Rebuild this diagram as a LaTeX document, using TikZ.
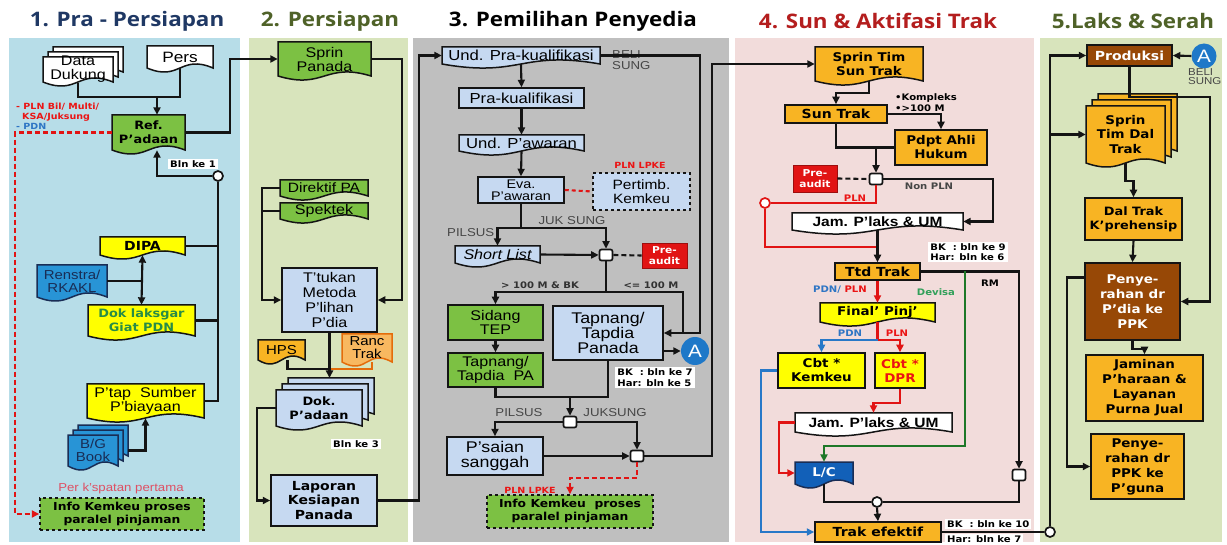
\documentclass[tikz,border=0pt]{standalone}
\usepackage{fontspec}
\usetikzlibrary{arrows.meta,calc}
\newfontfamily\fA{Liberation Sans}[FakeStretch=1.15]
\newfontfamily\fB{DejaVu Sans}[FakeStretch=1.12]
\newfontfamily\fT{Open Sans}[FakeStretch=1.12]
\newcommand\fsz[2]{\fontsize{#1}{#2}\selectfont}
\definecolor{pBlue}{RGB}{183,221,232}
\definecolor{pGreen}{RGB}{216,228,188}
\definecolor{pGray}{RGB}{191,191,191}
\definecolor{pPink}{RGB}{242,220,219}
\definecolor{cGreen}{RGB}{124,193,67}
\definecolor{cLBlue}{RGB}{198,217,241}
\definecolor{cYellow}{RGB}{255,255,0}
\definecolor{cGold}{RGB}{248,180,35}
\definecolor{cOrangeL}{RGB}{248,184,96}
\definecolor{cOrangeD}{RGB}{228,108,10}
\definecolor{cBrown}{RGB}{151,72,6}
\definecolor{cBlueDoc}{RGB}{40,148,214}
\definecolor{cBlueLC}{RGB}{18,96,184}
\definecolor{cRed}{RGB}{225,20,20}
\definecolor{cRedTxt}{RGB}{235,20,20}
\definecolor{cPink}{RGB}{222,80,100}
\definecolor{cBlueTxt}{RGB}{46,117,196}
\definecolor{cBlueLn}{RGB}{40,120,200}
\definecolor{cGreenTxt}{RGB}{50,160,90}
\definecolor{cGreenLn}{RGB}{30,120,40}
\definecolor{cGrayTxt}{RGB}{70,70,70}
\definecolor{cDark}{RGB}{50,50,50}
\definecolor{tNavy}{RGB}{31,56,100}
\definecolor{tOlive}{RGB}{79,98,40}
\definecolor{tRed}{RGB}{180,30,30}
\definecolor{cNavyTxt}{RGB}{25,45,85}
\definecolor{cDokTxt}{RGB}{40,140,70}
\definecolor{cLine}{RGB}{20,20,20}
\definecolor{cBlueA}{RGB}{30,120,200}
\tikzset{
  ln/.style={line width=2.1pt, draw=cLine},
  arr/.style={ln, -{Triangle[length=7.5pt,width=7pt]}},
  darr/.style={ln, {Triangle[length=7.5pt,width=7pt]}-{Triangle[length=7.5pt,width=7pt]}},
  rln/.style={ln, draw=cRed},
  rarr/.style={arr, draw=cRed},
  barr/.style={arr, draw=cBlueLn},
  garr/.style={arr, draw=cGreenLn},
  rdash/.style={arr, draw=cRed, dash pattern=on 5pt off 3pt},
  rdashln/.style={ln, draw=cRed, dash pattern=on 4pt off 3pt},
  kdash/.style={ln, dash pattern=on 5pt off 3pt},
  shp/.style={draw=cLine, line width=1.5pt},
  box/.style={draw=cLine, line width=1.5pt, inner sep=0pt, align=center},
  txt/.style={inner sep=0pt, align=center},
  title/.style={inner sep=0pt, font=\fT\bfseries\fsz{20}{21}},
  lbl/.style={fill=white, inner xsep=2pt, inner ysep=1.5pt, align=left, font=\fB\bfseries\fsz{9}{10.5}, text=black},
  lblg/.style={inner sep=0pt, align=left, font=\fB\bfseries\fsz{9}{11}, text=cDark},
  glbl/.style={inner sep=0pt, align=left, font=\fA\fsz{11.5}{11}, text=cGrayTxt},
  rlbl/.style={inner sep=0pt, align=left, font=\fB\bfseries\fsz{8.5}{9}, text=cRedTxt},
  jbox/.style={draw=cLine, fill=white, rounded corners=2pt, minimum width=13pt, minimum height=11pt, inner sep=0pt, line width=1.7pt},
  cjn/.style={circle, draw=cLine, fill=white, minimum size=10pt, inner sep=0pt, line width=1.7pt},
  circA/.style={circle, fill=cBlueA, inner sep=0pt, minimum size=28pt, text=white, font=\fA\fsz{18}{18}},
  preaud/.style={box, fill=cRed, draw=cRed!70!black, line width=0.8pt, text=white, font=\fB\bfseries\fsz{9.5}{10.5}},
  reg/.style={txt, font=\fA\fsz{#1}{#1}},
  bld/.style={txt, font=\fB\bfseries\fsz{#1}{14}},
}
\newcommand\DocPath[5]{%
  \path[#1] ({#2},{#3}) -- ({#4},{#3}) -- ({#4},{#5})
    .. controls ({0.5*(#2)+0.5*(#4)},{(#5)-14}) and ({0.5*(#2)+0.5*(#4)},{(#5)+14}) .. ({#2},{#5}) -- cycle;}
\newcommand\DocS[8]{%
  \DocPath{#1}{#4}{#5}{#6}{#7}%
  \node[#2, inner sep=0pt, minimum width={(#6)-(#4)}, minimum height={(#7)-(#5)}] (#3) at ({0.5*(#4)+0.5*(#6)},{0.5*(#5)+0.5*(#7)}) {#8};}
\newcommand\MDocS[9]{%
  \DocPath{#1}{(#4)+2*(#9)}{(#5)-2*(#9)}{(#6)+2*(#9)}{(#7)-2*(#9)}%
  \DocPath{#1}{(#4)+(#9)}{(#5)-(#9)}{(#6)+(#9)}{(#7)-(#9)}%
  \DocS{#1}{#2}{#3}{#4}{#5}{#6}{#7}{#8}}
\newcommand\RectN[7]{\node[box, #1, minimum width={(#5)-(#3)}, minimum height={(#6)-(#4)}] (#2) at ({0.5*(#3)+0.5*(#5)},{0.5*(#4)+0.5*(#6)}) {#7};}
\begin{document}
\begin{tikzpicture}[x=1pt,y=-1pt]
\useasboundingbox (0,0) rectangle (1227,545);
\fill[white] (0,0) rectangle (1227,545);
% panels
\fill[pBlue] (9,38) rectangle (240,542);
\fill[pGreen] (249,38) rectangle (408,542);
\fill[pGray] (413,38) rectangle (729,542);
\fill[pPink] (735,38) rectangle (1034,542);
\fill[pGreen] (1040,38) rectangle (1222,542);
% titles
\node[title, text=tNavy] (t1) at (127,21) {1. Pra - Persiapan};
\node[title, text=tOlive] (t2) at (330,21) {2. Persiapan};
\node[title, text=black] (t3) at (573,21) {3. Pemilihan Penyedia};
\node[title, text=tRed] (t4) at (878,21) {4. Sun \& Aktifasi Trak};
\node[title, text=tOlive] (t5) at (1133,21) {5.Laks \& Serah};

% ---------- column 1
\MDocS{shp, fill=white}{reg=14}{datadukung}{43}{57}{113}{82}{Data\\Dukung}{5}
\DocS{shp, fill=white}{reg=15}{pers}{147}{46}{213}{68}{Pers}
\coordinate (j1) at (157,97);
\DocS{shp, fill=cGreen}{txt, font=\fB\bfseries\fsz{11.5}{14}}{ref}{112}{115}{185}{150}{Ref.\\P’adaan}
\node[lbl] (lb1) at (193,164) {Bln ke 1};
\node[cjn] (c1) at (218,176) {};
\DocS{shp, fill=cYellow}{bld=12.5}{dipa}{100}{237}{185}{255}{DIPA}
\DocS{shp, fill=cBlueDoc, draw=cNavyTxt}{txt, text=cNavyTxt, font=\fA\fsz{13}{13}}{renstra}{37}{265}{107}{297}{Renstra/\\RKAKL}
\DocS{shp, fill=cYellow}{txt, text=cDokTxt, font=\fB\bfseries\fsz{11.5}{14}}{doklak}{88}{305}{195}{336}{Dok laksgar\\Giat PDN}
\DocS{shp, fill=cYellow}{reg=14}{ptap}{87}{384}{204}{418}{P’tap\ \ Sumber\\P’biayaan}
\MDocS{shp, fill=cBlueDoc, draw=cNavyTxt}{txt, text=cNavyTxt, font=\fA\fsz{13}{13}}{bgbook}{68}{435}{118}{466}{B/G\\Book}{5}
\node[txt, text=cPink, font=\fA\fsz{11.5}{12}] (lpers) at (121,489) {Per k’spatan pertama};
\RectN{dashed, fill=cGreen, font=\fB\bfseries\fsz{11}{13}}{info1}{40}{498}{204}{530}{Info Kemkeu proses\\paralel pinjaman}
\node[rlbl, anchor=west] (lpln1) at (16,107) {- PLN Bil/ Multi/};
\node[rlbl, anchor=west] (lpln2) at (22,117) {KSA/Juksung};
\node[rlbl, anchor=west, text=cBlueTxt] (lpdn) at (16,126) {- PDN};

\draw[ln] (datadukung.south) |- (j1);
\draw[ln] (pers.south) |- (j1);
\draw[arr] (j1) -- (j1 |- ref.north);
\draw[arr] (c1.west) -| ($(ref.south)+(8.5,0)$);
\draw[ln] (c1.south) |- (ptap.east);
\draw[ln] (dipa.east) -- (dipa.east -| c1);
\draw[ln] (doklak.east) -- (doklak.east -| c1);
\draw[darr] (dipa.south) -- (doklak.north);
\draw[ln] (renstra.east) -- (renstra.east -| dipa.south);
\draw[arr] ($(bgbook.east)+(10,0)$) -| (ptap.south);
\draw[rdash] (ref.west) -- (15,132.5) |- (info1.west);

% ---------- column 2
\DocS{shp, fill=cGreen}{reg=14}{sprin}{278}{42}{371}{76}{Sprin\\Panada}
\DocS{shp, fill=cGreen}{reg=13.5}{direktif}{280}{180}{368}{196}{Direktif PA}
\DocS{shp, fill=cGreen}{reg=14}{spektek}{280}{203}{368}{219}{Spektek}
\RectN{fill=cLBlue, font=\fA\fsz{14}{15}}{ttukan}{282}{268}{377}{332}{T’tukan\\Metoda\\P’lihan\\P’dia}
\DocS{shp, fill=cGold}{reg=13}{hps}{258}{340}{305}{360}{HPS}
\DocS{shp, fill=cOrangeL, draw=cOrangeD}{reg=13}{ranc}{342}{334}{392}{362}{Ranc\\Trak}
\MDocS{shp, fill=cLBlue}{txt, font=\fB\bfseries\fsz{11.5}{14}}{dok}{276}{390}{362}{426}{Dok.\\P’adaan}{6}
\node[lbl] (lb3) at (356,444) {Bln ke 3};
\RectN{fill=cLBlue, font=\fB\bfseries\fsz{12.5}{14.5}}{laporan}{271}{475}{377}{526}{Laporan\\Kesiapan\\Panada}

\draw[arr] (ref.east) -- ($(ref.east)+(45,0)$) |- (sprin.west);
\draw[arr] (sprin.east) -- ($(sprin.east)+(31,0)$) |- (ttukan.east);
\draw[arr] (direktif.west) -- ($(direktif.west)+(-18,0)$) |- (ttukan.west);
\draw[ln] (spektek.west) -- ($(spektek.west)+(-18,0)$);
\coordinate (j2) at (329.5,369);
\draw[ln] ($(hps.south)+(6,0)$) |- (j2);
\draw[ln, draw=cOrangeD] ($(ranc.south)+(5,0)$) |- (j2);
\draw[arr] (ttukan.south) -- (329.5,378);
\draw[arr] (dok.west) -- ($(dok.west)+(-19,0)$) |- (laporan.west);

% ---------- column 3
\DocS{shp, fill=cLBlue}{reg=14.5}{undpra}{442}{47}{600}{64}{Und. Pra-kualifikasi}
\node[glbl, anchor=west] (lbeli1) at (612,60) {BELI\\SUNG};
\RectN{fill=cLBlue, font=\fA\fsz{14.5}{14}}{prak}{459}{88}{584}{108}{Pra-kualifikasi}
\DocS{shp, fill=cLBlue}{reg=14.5}{undpaw}{459}{135}{584}{151}{Und. P’awaran}
\RectN{fill=cLBlue, font=\fA\fsz{12.5}{12}}{eva}{478}{177}{564}{203}{Eva.\\P’awaran}
\RectN{dashed, fill=cLBlue, font=\fA\fsz{13.5}{14}}{pertimb}{593}{173}{690}{210}{Pertimb.\\Kemkeu}
\node[rlbl] (lplnlpke1) at (640,165) {PLN LPKE};
\coordinate (s1) at (521,228);
\node[glbl] (ljuk) at (572,221) {JUK SUNG};
\node[glbl, anchor=west] (lpil1) at (447,233) {PILSUS};
\DocS{shp, fill=cLBlue}{txt, font=\fA\itshape\fsz{14}{14}}{short}{455}{246}{540}{263}{Short List}
\node[jbox] (jn1) at (606,255) {};
\RectN{preaud}{pre1}{642}{243}{687}{268}{Pre-\\audit}
\coordinate (s2) at (606,292);
\node[lblg] (l100a) at (540,285) {> 100 M \& BK};
\node[lblg] (l100b) at (651,285) {<= 100 M};
\RectN{fill=cGreen, font=\fA\fsz{14}{14}}{sidang}{448}{305}{543}{340}{Sidang\\TEP}
\RectN{fill=cGreen, font=\fA\fsz{14}{14}}{tappa}{448}{353}{543}{387}{Tapnang/\\Tapdia\ \ PA}
\RectN{fill=cLBlue, font=\fA\fsz{15.5}{15}}{panada}{553}{306}{663}{360}{Tapnang/\\Tapdia\\Panada}
\node[circA] (A1) at (695,351) {A};
\node[lbl] (lbk7) at (655,377.5) {BK\ \ : bln ke 7\\Har: bln ke 5};
\coordinate (m1) at (570,397);
\node[jbox] (jn2) at (570,422) {};
\node[glbl] (lpil2) at (519,413) {PILSUS};
\node[glbl] (ljuk2) at (615,413) {JUKSUNG};
\RectN{fill=cLBlue, font=\fA\fsz{15.5}{15}}{psaian}{447}{437}{543}{475}{P’saian\\sanggah}
\node[jbox] (jn3) at (637,456) {};
\node[rlbl] (lplnlpke2) at (530,490) {PLN LPKE};
\RectN{dashed, fill=cGreen, font=\fB\bfseries\fsz{11}{13}}{info2}{487}{495}{653}{528}{Info Kemkeu\ \ proses\\paralel pinjaman}

\draw[arr] (laporan.east) -- (419,500.5) |- (undpra.west);
\draw[arr] (undpra.south) -- (prak.north);
\draw[arr] (prak.south) -- (undpaw.north);
\draw[arr] (undpaw.south) -- (eva.north);
\draw[rdashln] (eva.east) -- (pertimb.west);
\draw[ln] (eva.south) -- (s1);
\draw[arr] (s1) -| (short.north);
\draw[arr] (s1) -| (jn1.north);
\draw[arr] (short.east) -- (jn1.west);
\draw[kdash] (jn1.east) -- (pre1.west);
\draw[ln] (jn1.south) -- (s2);
\draw[arr] (s2) -| (sidang.north);
\draw[ln] (s2) -- (683,292) -- (683,333);
\draw[arr] (undpra.east) -- (700,55.5) |- (panada.east);
\draw[arr] (sidang.south) -- (tappa.north);
\draw[arr] ($(panada.east)+(0,18)$) -- (A1.west);
\draw[ln] (tappa.south) |- (m1);
\draw[ln] (panada.south) |- (m1);
\draw[arr] (m1) -- (jn2.north);
\draw[arr] (jn2.west) -| (psaian.north);
\draw[arr] (jn2.east) -| (jn3.north);
\draw[arr] (psaian.east) -- (jn3.west);
\draw[rdash] (jn3.south) -- (637,478) -| (info2.north);

% ---------- column 4
\DocS{shp, fill=cGold}{txt, font=\fB\bfseries\fsz{12}{14}}{sprintim}{815}{47}{923}{81}{Sprin Tim\\Sun Trak}
\RectN{fill=cGold, font=\fB\bfseries\fsz{12.5}{13}}{suntrak}{785}{105}{887}{123}{Sun Trak}
\node[lblg, anchor=west, text=black] (lkomp) at (895,102.5) {•Kompleks\\•>100 M};
\RectN{fill=cGold, font=\fB\bfseries\fsz{12}{14}}{pdpt}{895}{130}{987}{165}{Pdpt Ahli\\Hukum}
\node[jbox] (jn4) at (876,179) {};
\RectN{preaud}{pre2}{793}{165}{837}{192}{Pre-\\audit}
\node[lblg, text=cGrayTxt] (lnon) at (929,186) {Non PLN};
\node[cjn, draw=cRed] (c2) at (765,203) {};
\node[rlbl, font=\fB\bfseries\fsz{9}{9}] (lpln3) at (855,198) {PLN};
\DocS{shp, fill=white}{txt, font=\fA\bfseries\fsz{13.5}{14}}{jam1}{792}{213}{963}{230}{Jam. P’laks \& UM}
\node[lbl] (lbk9) at (968,252) {BK\ \ : bln ke 9\\Har: bln ke 6};
\RectN{fill=cGold, font=\fB\bfseries\fsz{12.5}{13}}{ttd}{835}{263}{920}{280}{Ttd Trak}
\node[lblg, text=black] (lrm) at (990,283) {RM};
\node[lblg, text=cGreenTxt] (ldev) at (936,292) {Devisa};
\node[lblg] (lpdnpln) at (840,290) {\textcolor{cBlueTxt}{PDN/} \textcolor{cRedTxt}{PLN}};
\DocS{shp, fill=cYellow}{txt, font=\fB\bfseries\fsz{12}{14}}{final}{820}{303}{935}{322}{Final’ Pinj’}
\coordinate (s3) at (877.5,340);
\node[lblg, text=cBlueTxt] (lpdn2) at (850,333) {PDN};
\node[lblg, text=cRedTxt] (lpln4) at (897,333) {PLN};
\RectN{fill=cYellow, font=\fB\bfseries\fsz{12}{14}}{cbtk}{778}{353}{865}{388}{Cbt *\\Kemkeu}
\RectN{fill=cYellow, text=cRedTxt, font=\fB\bfseries\fsz{12}{14}}{cbtd}{875}{353}{925}{388}{Cbt *\\DPR}
\DocS{shp, fill=white}{txt, font=\fA\bfseries\fsz{13.5}{14}}{jam2}{795}{413}{952}{432}{Jam. P’laks \& UM}
\DocS{shp, fill=cBlueLC, draw=cNavyTxt}{txt, text=white, font=\fB\bfseries\fsz{12}{14}}{lc}{795}{462}{853}{484}{L/C}
\node[cjn] (c3) at (877,502) {};
\RectN{fill=cGold, font=\fB\bfseries\fsz{12.5}{13}}{trak}{815}{522}{941}{542}{Trak efektif}
\node[lbl, anchor=west] (lbk10) at (945,524) {BK\ \ : bln ke 10};
\node[lbl, anchor=west] (lhar7) at (945,539) {Har: bln ke 7};
\node[jbox] (jn5) at (1019,475) {};
\node[cjn] (c4) at (1050,532) {};

\draw[arr] (jn3.east) -- (712,456) |- (sprintim.west);
\draw[arr] (sprintim.south) -- ++(0,12) -| (suntrak.north);
\draw[arr] (suntrak.east) -| (pdpt.north);
\draw[ln] (suntrak.south) |- (pdpt.west);
\draw[arr] (jn4 |- pdpt.west) -- (jn4.north);
\draw[kdash] (pre2.east) -- (jn4.west);
\draw[arr] (jn4.east) -- (993,179) |- (jam1.east);
\draw[rln] (jn4.south) |- (c2.east);
\draw[rln] (c2.south) |- (877.5,247);
\draw[arr] (jam1.south) -- (ttd.north);
\draw[arr] (ttd.east) -- (1019,271.5) -- (jn5.north);
\draw[garr] (965,271.5) -- (965,446) -| (lc.north);
\draw[rarr] (ttd.south) -- (final.north);
\draw[rln] (final.south) -- (s3);
\draw[barr] (s3) -| (cbtk.north);
\draw[rarr] (s3) -| (cbtd.north);
\draw[rarr] (cbtd.south) -- ++(0,14) -| (jam2.north);
\draw[rarr] (jam2.west) -- ++(-16,0) |- (lc.west);
\draw[barr] (cbtk.west) -- ++(-16,0) |- (trak.west);
\draw[ln] (lc.south) |- (c3.west);
\draw[ln] (c3.east) -| (jn5.south);
\draw[arr] (c3.south) -- (trak.north);
\draw[ln] (trak.east) -- (c4.west);

% ---------- column 5
\RectN{fill=cBrown, text=white, font=\fB\bfseries\fsz{12.5}{13}}{produksi}{1087}{45}{1172}{66}{Produksi}
\node[circA, minimum size=25pt] (A2) at (1204,56) {A};
\node[glbl, font=\fA\fsz{10}{8.5}, anchor=west] (lbeli2) at (1188,76.5) {BELI\\SUNG};
\MDocS{shp, fill=cGold}{txt, font=\fB\bfseries\fsz{12}{14.5}}{sprindal}{1086}{106}{1165}{163}{Sprin\\Tim Dal\\Trak}{6}
\RectN{fill=cGold, font=\fB\bfseries\fsz{11.5}{14}}{daltrak}{1085}{198}{1182}{240}{Dal Trak\\K’prehensip}
\RectN{fill=cBrown, text=white, font=\fB\bfseries\fsz{12}{15}}{peny1}{1085}{263}{1180}{340}{Penye-\\rahan dr\\P’dia ke\\PPK}
\RectN{fill=cGold, font=\fB\bfseries\fsz{12}{15}}{jaminan}{1086}{355}{1203}{421}{Jaminan\\P’haraan \&\\Layanan\\Purna Jual}
\RectN{fill=cGold, font=\fB\bfseries\fsz{12}{15}}{peny2}{1091}{434}{1184}{499}{Penye-\\rahan dr\\PPK ke\\P’guna}

\draw[arr] (c4.north) |- (produksi.west);
\draw[arr] (c4 |- sprindal.west) -- (sprindal.west);
\draw[arr] (A2.west) -- (produksi.east);
\draw[arr] (produksi.south) |- (1210,97) |- (peny1.east);
\draw[arr] (sprindal.south) -- ++(0,18) -| (daltrak.north);
\draw[arr] (daltrak.south) -- (peny1.north);
\draw[arr] (peny1.south) -- ++(0,8) -| (jaminan.north);
\draw[arr] ($(peny1.west)+(0,-24)$) -- ++(-17,0) |- (peny2.west);
\end{tikzpicture}
\end{document}
